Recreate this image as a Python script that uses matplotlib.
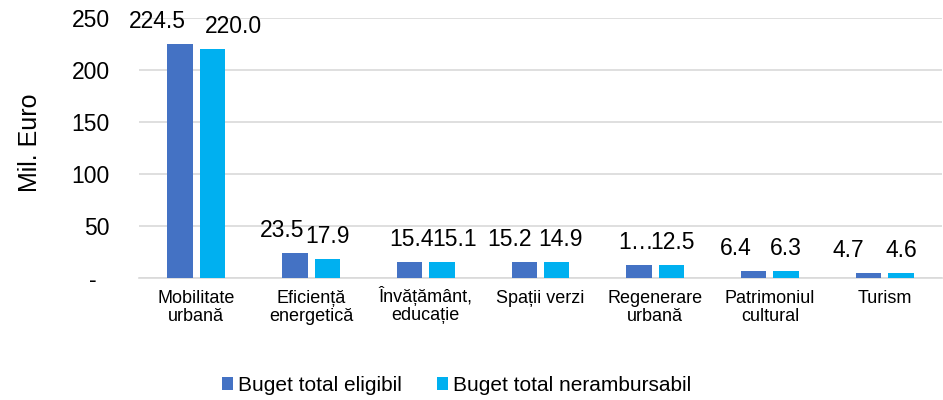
import numpy as np
import matplotlib.pyplot as plt
import matplotlib.transforms as mtransforms

plt.rcParams['font.family'] = ['Liberation Sans', 'DejaVu Sans']

# Data
categories = ["Mobilitate\nurbană", "Eficiență\nenergetică", "Învățământ,\neducație",
              "Spații verzi", "Regenerare\nurbană", "Patrimoniul\ncultural", "Turism"]
eligibil = [224.5, 23.5, 15.4, 15.2, 12.7, 6.4, 4.7]
nerambursabil = [220.0, 17.9, 15.1, 14.9, 12.5, 6.3, 4.6]
eligibil_labels = ["224.5", "23.5", "15.4", "15.2", "1…", "6.4", "4.7"]
nerambursabil_labels = ["220.0", "17.9", "15.1", "14.9", "12.5", "6.3", "4.6"]
series_names = ["Buget total eligibil", "Buget total nerambursabil"]

# label horizontal nudges (pixels), like Excel's placement
eligibil_dx = [-23, -13, 1.5, -15, -3, -18, -20]
nerambursabil_dx = [21, 0, 13, 4, 1.5, 0, 0]

fig = plt.figure(figsize=(9.43, 4), dpi=100)
ax = fig.add_axes([139 / 943, 1 - 277.7 / 400, 803 / 943, (277.7 - 18) / 400])

x = np.arange(len(categories))
w = 0.222
off = 0.1417
b1 = ax.bar(x - off, eligibil, w, color='#4472C4', label=series_names[0], zorder=3)
b2 = ax.bar(x + off, nerambursabil, w, color='#00B0F0', label=series_names[1], zorder=3)

px = 0.72  # points per pixel at 100 dpi
for bars, labels, dxs in [(b1, eligibil_labels, eligibil_dx),
                          (b2, nerambursabil_labels, nerambursabil_dx)]:
    for rect, lab, dx in zip(bars, labels, dxs):
        ax.annotate(lab, (rect.get_x() + rect.get_width() / 2, rect.get_height()),
                    xytext=(dx * px, 16 * px), textcoords='offset points',
                    ha='center', va='baseline', fontsize=16.5, color='#000000',
                    annotation_clip=False)

ax.set_xlim(-0.5, len(categories) - 0.5)
ax.set_ylim(0, 250)
ax.set_yticks([0, 50, 100, 150, 200, 250])
ax.set_yticklabels(["-  ", "50", "100", "150", "200", "250"], fontsize=16.5)
ax.set_xticks(x)
ax.set_xticklabels(categories, fontsize=13, va='top', linespacing=1.05)
ax.tick_params(axis='y', length=0, pad=21)
ax.tick_params(axis='x', length=0, pad=9)
ax.set_ylabel("Mil. Euro", fontsize=18)
ax.yaxis.set_label_coords(-(139 - 42) / 803, 0.52)

# the tall "Î" pushes its label down; lift it so baselines line up
lbl = ax.get_xticklabels()[2]
lbl.set_transform(lbl.get_transform() + mtransforms.ScaledTranslation(0, 4 / 100, fig.dpi_scale_trans))

ax.yaxis.grid(True, color='#D9D9D9', linewidth=1.2, zorder=0)
for s in ['top', 'right', 'left']:
    ax.spines[s].set_visible(False)
ax.spines['bottom'].set_color('#D9D9D9')
ax.spines['bottom'].set_linewidth(1.2)

fig.legend(loc='center', ncol=2, frameon=False, fontsize=15,
           handlelength=0.55, handleheight=0.6, handletextpad=0.2, columnspacing=1.7,
           bbox_to_anchor=(0.484, 0.037), borderaxespad=0, borderpad=0)

fig.savefig("out.png", dpi=100)
